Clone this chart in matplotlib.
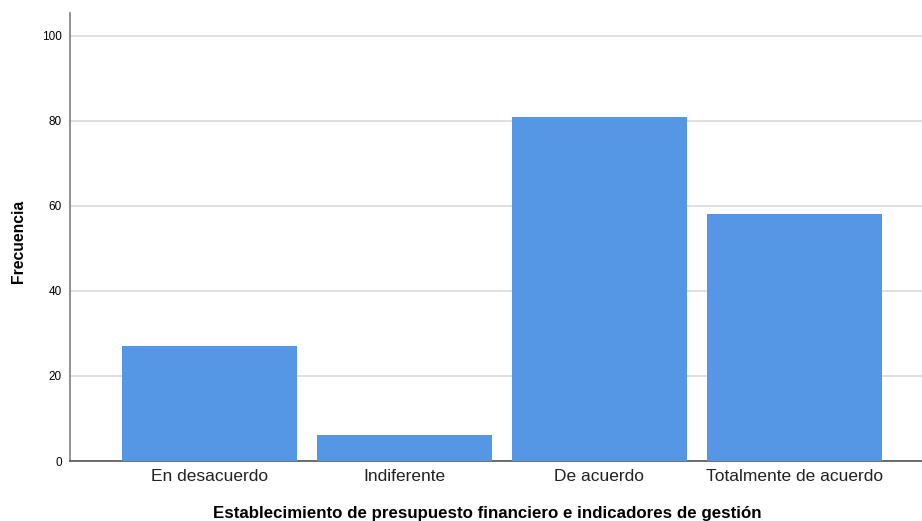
import matplotlib.pyplot as plt
import numpy as np

plt.rcParams['font.family'] = ['Liberation Sans', 'DejaVu Sans']

# Datos de la grafica
categorias = ["En desacuerdo", "Indiferente", "De acuerdo", "Totalmente de acuerdo"]
frecuencias = [27, 6, 81, 58]
yticks = [0, 20, 40, 60, 80, 100]

BAR_COLOR = "#5597E5"
GRID_COLOR = "#D9D9D9"
SPINE_COLOR = "#7F7F7F"

fig = plt.figure(figsize=(9.22, 5.21), dpi=100)
ax = fig.add_axes([70 / 922, 60 / 521, 852 / 922, 448 / 521])

x = np.arange(len(categorias))
ax.bar(x, frecuencias, width=0.897, color=BAR_COLOR, zorder=3)

ax.set_xlim(-0.715, 3.654)
ax.set_ylim(0, 105.4)
ax.set_yticks(yticks)
ax.set_xticks(x)
ax.set_xticklabels(categorias, fontsize=12.5, color="#222222")
ax.tick_params(axis='y', labelsize=8.5, length=0, pad=6)
ax.tick_params(axis='x', length=0, pad=6)

ax.grid(axis='y', color=GRID_COLOR, linewidth=1.2, zorder=0)
for s in ['top', 'right']:
    ax.spines[s].set_visible(False)
ax.spines['left'].set_color(SPINE_COLOR)
ax.spines['bottom'].set_color("#555555")
ax.spines['left'].set_linewidth(1.2)
ax.spines['bottom'].set_linewidth(1.2)

fig.text(18 / 922, 1 - 241 / 521, "Frecuencia", rotation=90, fontsize=11.3,
         fontweight='bold', ha='center', va='center')
fig.text(487.5 / 922, 1 - 513.5 / 521,
         "Establecimiento de presupuesto financiero e indicadores de gestión",
         fontsize=12.2, fontweight='bold', ha='center', va='center')

fig.savefig("out.png", dpi=100)
